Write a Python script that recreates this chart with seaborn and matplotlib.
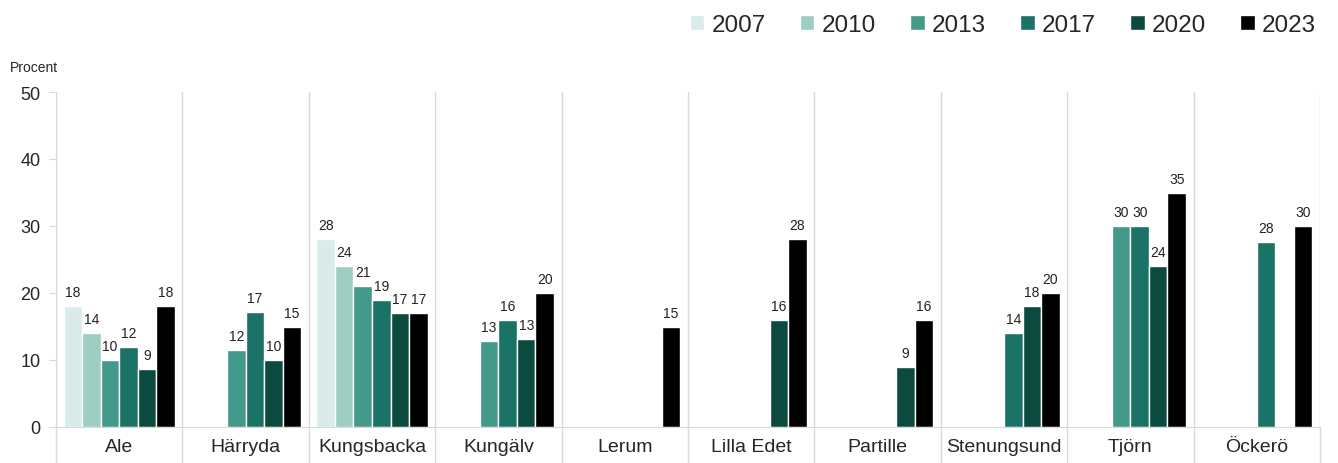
import numpy as np
import pandas as pd
import seaborn as sns
import matplotlib.pyplot as plt

# ========== DATA ==========
kommuner = ['Ale', 'Härryda', 'Kungsbacka', 'Kungälv', 'Lerum',
            'Lilla Edet', 'Partille', 'Stenungsund', 'Tjörn', 'Öckerö']
years = ['2007', '2010', '2013', '2017', '2020', '2023']

nan = np.nan
v2007 = [18, nan, 28, nan, nan, nan, nan, nan, nan, nan]
v2010 = [14, nan, 24, nan, nan, nan, nan, nan, nan, nan]
v2013 = [10, 11.5, 21, 12.9, nan, nan, nan, nan, 30, nan]
v2017 = [12, 17.2, 19, 16, nan, nan, nan, 14, 30, 27.6]
v2020 = [8.6, 10, 17, 13.1, nan, 16, 9, 18, 24, nan]
v2023 = [18, 15, 17, 20, 15, 28, 16, 20, 35, 30]

colors = ['#d9ecea', '#9ecdc1', '#43998a', '#1b7266', '#0b4a3e', '#000000']

series = dict(zip(years, [v2007, v2010, v2013, v2017, v2020, v2023]))
df = pd.DataFrame(series, index=kommuner).reset_index(names='kommun')
df = df.melt(id_vars='kommun', var_name='year', value_name='procent')

# ========== PLOT ==========
sns.set_style('white')
plt.rcParams['font.family'] = ['Liberation Sans', 'DejaVu Sans']

fig = plt.figure(figsize=(13.38, 4.64), dpi=100)
ax = fig.add_axes([56 / 1338, 1 - 428 / 464, (1320 - 56) / 1338, (428 - 93) / 464])

sns.barplot(data=df, x='kommun', y='procent', hue='year', hue_order=years,
            palette=colors, saturation=1, width=0.88, edgecolor='white',
            linewidth=1, legend=True, ax=ax)

for cont in ax.containers:
    ax.bar_label(cont, fmt=lambda v: '' if np.isnan(v) else f'{v:.0f}',
                 padding=5, fontsize=10, color='#222222')

ax.set_ylim(0, 50)
ax.set_xlim(-0.5, len(kommuner) - 0.5)
ax.set_yticks(range(0, 51, 10))
ax.set_xlabel('')
ax.set_ylabel('')
ax.tick_params(axis='y', left=True, labelsize=13, length=5, color='#d9d9d9', pad=6)
ax.tick_params(axis='x', which='major', labelsize=14, length=0, pad=8)
ax.set_xticks(np.arange(-0.5, len(kommuner)), minor=True)
ax.tick_params(axis='x', which='minor', bottom=True, length=36,
               color='#d9d9d9', width=1)
ax.grid(which='minor', axis='x', color='#d9d9d9', linewidth=1)
ax.set_axisbelow(True)

for side in ['top', 'right']:
    ax.spines[side].set_visible(False)
ax.spines['left'].set_color('#d9d9d9')
ax.spines['bottom'].set_color('#d9d9d9')

fig.text(10 / 1338, 1 - 68 / 464, 'Procent', fontsize=10, va='center')

handles, labels = ax.get_legend_handles_labels()
ax.get_legend().remove()
fig.legend(handles, labels, loc='upper right', bbox_to_anchor=(1.0, 1.015),
           ncol=6, frameon=False, fontsize=17.5, handlelength=0.6, handleheight=0.6,
           handletextpad=0.3, columnspacing=1.4)

plt.savefig('out.png', dpi=100)
